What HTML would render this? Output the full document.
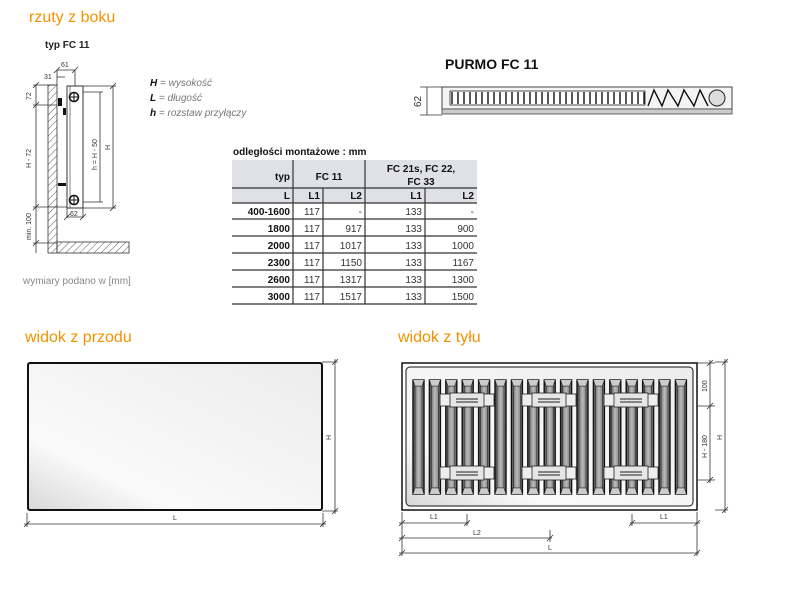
<!DOCTYPE html>
<html><head><meta charset="utf-8"><style>
html,body{margin:0;padding:0;background:#fff;}
svg{display:block;font-family:"Liberation Sans",sans-serif;}
.t{fill:#f39200;font-size:16px;}
.d{stroke:#333;stroke-width:0.8;fill:none;}
.sm{font-size:7px;fill:#333;}
</style></head><body>
<svg width="789" height="590" viewBox="0 0 789 590" xmlns="http://www.w3.org/2000/svg">
<defs>
<pattern id="hatch" width="5" height="5" patternUnits="userSpaceOnUse" patternTransform="rotate(45)">
<line x1="0" y1="0" x2="0" y2="5" stroke="#333" stroke-width="0.8"/></pattern>
<linearGradient id="tg" x1="0" x2="1"><stop offset="0" stop-color="#555"/><stop offset="0.5" stop-color="#bbb"/><stop offset="1" stop-color="#666"/></linearGradient>
<linearGradient id="fg" x1="0" y1="1" x2="1" y2="0"><stop offset="0" stop-color="#d8d8d8"/><stop offset="0.25" stop-color="#fafafa"/><stop offset="1" stop-color="#ececec"/></linearGradient>
<g id="tube"><rect x="0" y="0" width="11" height="114" fill="url(#tg)" stroke="#111" stroke-width="1.4"/><rect x="2" y="6" width="7" height="102" fill="none" stroke="#222" stroke-width="0.6"/><path d="M0 0 L2 6 L9 6 L11 0 M0 114 L2 108 L9 108 L11 114" stroke="#222" stroke-width="0.6" fill="#ccc"/></g>
<g id="br"><rect x="0" y="0" width="54" height="12" fill="#eee" stroke="#222" stroke-width="0.8"/><rect x="10" y="-1" width="34" height="14" fill="#e6e6e6" stroke="#222" stroke-width="0.8"/><line x1="16" y1="5" x2="38" y2="5" stroke="#222"/><line x1="16" y1="8" x2="38" y2="8" stroke="#222"/></g>
</defs>

<text x="29" y="22" class="t">rzuty z boku</text>
<text x="25" y="342" class="t">widok z przodu</text>
<text x="398" y="342" class="t">widok z tyłu</text>

<!-- side view -->
<text x="45" y="48" font-size="10" font-weight="bold" fill="#222">typ FC 11</text>
<rect x="48" y="85" width="9" height="168" fill="url(#hatch)" stroke="#333" stroke-width="0.8"/>
<rect x="57" y="242" width="72" height="11" fill="url(#hatch)" stroke="#333" stroke-width="0.8"/>
<rect x="67" y="86" width="16" height="122" fill="#fff" stroke="#333" stroke-width="1"/>
<line x1="70" y1="86" x2="70" y2="208" stroke="#333" stroke-width="0.6"/>
<circle cx="74" cy="97" r="4.5" fill="#fff" stroke="#111" stroke-width="1.6"/><path d="M70 97h8M74 93v8" stroke="#111"/>
<circle cx="74" cy="200" r="4.5" fill="#fff" stroke="#111" stroke-width="1.6"/><path d="M70 200h8M74 196v8" stroke="#111"/>
<rect x="58" y="98" width="4" height="8" fill="#111"/><rect x="63" y="108" width="3" height="7" fill="#111"/>
<rect x="58" y="183" width="8" height="3" fill="#111"/>
<g class="d">
<path d="M36 85V253M33 85h22M33 105h24M33 207h34M33 243h24"/>
<path d="M33 88l6-6M33 108l6-6M33 210l6-6M33 246l6-6"/>
<path d="M57 70h18M57 70V85M75 70V86M57 77h8M54 73l6-6M72 73l6-6"/>
<path d="M83 92h20M100 92V202M83 202h20M83 86h33M113 86V208M83 208h33M110 89l6-6M110 211l6-6"/>
<path d="M67 208v10M83 208v10M67 217h16M64 220l6-6M80 220l6-6"/>
</g>
<text x="61" y="67" class="sm">61</text><text x="44" y="79" class="sm">31</text>
<text x="70" y="216" class="sm">62</text>
<text transform="translate(31,100) rotate(-90)" class="sm">72</text>
<text transform="translate(31,168) rotate(-90)" class="sm">H - 72</text>
<text transform="translate(31,240) rotate(-90)" class="sm">min. 100</text>
<text transform="translate(97,170) rotate(-90)" class="sm">h = H - 50</text>
<text transform="translate(110,150) rotate(-90)" class="sm">H</text>
<g font-size="10" fill="#777" font-style="italic">
<text x="150" y="86"><tspan font-weight="bold" fill="#111">H</tspan> = wysokość</text>
<text x="150" y="101"><tspan font-weight="bold" fill="#111">L</tspan> = długość</text>
<text x="150" y="116"><tspan font-weight="bold" fill="#111">h</tspan> = rozstaw przyłączy</text>
</g>
<text x="23" y="284" font-size="10" fill="#888">wymiary podano w [mm]</text>

<!-- table -->
<text x="233" y="155" font-size="10" font-weight="bold" fill="#111">odległości montażowe : mm</text>
<rect x="232" y="160" width="245" height="43" fill="#dfe1e6"/>
<g stroke="#333" stroke-width="1.2">
<line x1="232" y1="188" x2="477" y2="188"/><line x1="232" y1="203" x2="477" y2="203"/>
<line x1="232" y1="219" x2="477" y2="219"/><line x1="232" y1="236" x2="477" y2="236"/>
<line x1="232" y1="253" x2="477" y2="253"/><line x1="232" y1="270" x2="477" y2="270"/>
<line x1="232" y1="287" x2="477" y2="287"/><line x1="232" y1="304" x2="477" y2="304"/>
<line x1="293" y1="160" x2="293" y2="304"/><line x1="365" y1="160" x2="365" y2="304"/>
<line x1="323" y1="188" x2="323" y2="304"/><line x1="425" y1="188" x2="425" y2="304"/>
</g>
<g font-size="10" fill="#111" text-anchor="end">
<text x="290" y="180" font-weight="bold">typ</text>
<text x="329" y="180" font-weight="bold" text-anchor="middle">FC 11</text>
<text x="421" y="172" font-weight="bold" text-anchor="middle">FC 21s, FC 22,</text>
<text x="421" y="185" font-weight="bold" text-anchor="middle">FC 33</text>
<g font-weight="bold"><text x="290" y="199">L</text><text x="320" y="199">L1</text><text x="362" y="199">L2</text><text x="422" y="199">L1</text><text x="474" y="199">L2</text>
<text x="290" y="215">400-1600</text><text x="290" y="232">1800</text><text x="290" y="249">2000</text><text x="290" y="266">2300</text><text x="290" y="283">2600</text><text x="290" y="300">3000</text></g>
<g fill="#333">
<text x="320" y="215">117</text><text x="362" y="215">-</text><text x="422" y="215">133</text><text x="474" y="215">-</text>
<text x="320" y="232">117</text><text x="362" y="232">917</text><text x="422" y="232">133</text><text x="474" y="232">900</text>
<text x="320" y="249">117</text><text x="362" y="249">1017</text><text x="422" y="249">133</text><text x="474" y="249">1000</text>
<text x="320" y="266">117</text><text x="362" y="266">1150</text><text x="422" y="266">133</text><text x="474" y="266">1167</text>
<text x="320" y="283">117</text><text x="362" y="283">1317</text><text x="422" y="283">133</text><text x="474" y="283">1300</text>
<text x="320" y="300">117</text><text x="362" y="300">1517</text><text x="422" y="300">133</text><text x="474" y="300">1500</text>
</g></g>

<!-- PURMO profile -->
<text x="445" y="69" font-size="14" font-weight="bold" fill="#111">PURMO FC 11</text>
<g class="d"><path d="M420 87h22M420 115h22M427 87V115"/></g>
<text transform="translate(421,107) rotate(-90)" font-size="10" fill="#333">62</text>
<rect x="442" y="87" width="290" height="22" fill="#f4f4f4" stroke="#444" stroke-width="1"/>
<rect x="442" y="109" width="290" height="5" fill="#ccc" stroke="#444" stroke-width="0.8"/>
<rect x="450" y="91" width="195" height="14" fill="#fff" stroke="#222" stroke-width="0.8"/>
<g fill="none" stroke="#111" stroke-width="1.4">
<path d="M452 92v12M458 92v12M464 92v12M470 92v12M476 92v12M482 92v12M488 92v12M494 92v12M500 92v12M506 92v12M512 92v12M518 92v12M524 92v12M530 92v12M536 92v12M542 92v12M548 92v12M554 92v12M560 92v12M566 92v12M572 92v12M578 92v12M584 92v12M590 92v12M596 92v12M602 92v12M608 92v12M614 92v12M620 92v12M626 92v12M632 92v12M638 92v12M644 92v12"/>
<path d="M648 106 L654 90 L662 106 L668 90 L678 106 L684 90 L694 106 L700 90 L708 106"/>
</g>
<circle cx="717" cy="98" r="8" fill="#ddd" stroke="#222"/>

<!-- front view -->
<rect x="28" y="363" width="294" height="147" rx="2" fill="url(#fg)" stroke="#111" stroke-width="2"/>
<g class="d"><path d="M322 362h16M322 511h16M335 359V514M332 365l6-6M332 514l6-6"/>
<path d="M27 513v14M323 513v14M24 524h302M24 527l6-6M320 527l6-6"/></g>
<text transform="translate(331,440) rotate(-90)" class="sm">H</text>
<text x="173" y="520" class="sm">L</text>

<!-- back view -->
<rect x="402" y="363" width="295" height="147" fill="#fff" stroke="#111" stroke-width="1.5"/>
<rect x="406" y="367" width="287" height="139" rx="4" fill="url(#fg)" stroke="#111" stroke-width="1"/>
<use href="#tube" x="413" y="380"/><use href="#tube" x="429.4" y="380"/><use href="#tube" x="445.8" y="380"/><use href="#tube" x="462.2" y="380"/><use href="#tube" x="478.6" y="380"/><use href="#tube" x="495" y="380"/><use href="#tube" x="511.4" y="380"/><use href="#tube" x="527.8" y="380"/><use href="#tube" x="544.2" y="380"/><use href="#tube" x="560.6" y="380"/><use href="#tube" x="577" y="380"/><use href="#tube" x="593.4" y="380"/><use href="#tube" x="609.8" y="380"/><use href="#tube" x="626.2" y="380"/><use href="#tube" x="642.6" y="380"/><use href="#tube" x="659" y="380"/><use href="#tube" x="675.4" y="380"/>
<use href="#br" x="440" y="394"/><use href="#br" x="522" y="394"/><use href="#br" x="604" y="394"/>
<use href="#br" x="440" y="467"/><use href="#br" x="522" y="467"/><use href="#br" x="604" y="467"/>
<g class="d">
<path d="M697 363h18M697 406h18M697 480h18M710 360V483M707 366l6-6M707 409l6-6M707 483l6-6"/>
<path d="M715 362h13M715 510h13M725 359V513M722 365l6-6M722 513l6-6"/>
<path d="M402 512v44M697 512v44M467 514v12M632 514v12M550 530v12"/>
<path d="M399 523h70M630 523h70M399 538h153M399 553h300"/>
<path d="M399 526l6-6M464 526l6-6M629 526l6-6M694 526l6-6M399 541l6-6M547 541l6-6M399 556l6-6M694 556l6-6"/>
</g>
<text transform="translate(707,392) rotate(-90)" class="sm">100</text>
<text transform="translate(707,458) rotate(-90)" class="sm">H - 180</text>
<text transform="translate(722,440) rotate(-90)" class="sm">H</text>
<text x="430" y="519" class="sm">L1</text><text x="660" y="519" class="sm">L1</text>
<text x="473" y="535" class="sm">L2</text><text x="548" y="550" class="sm">L</text>
</svg>
</body></html>
